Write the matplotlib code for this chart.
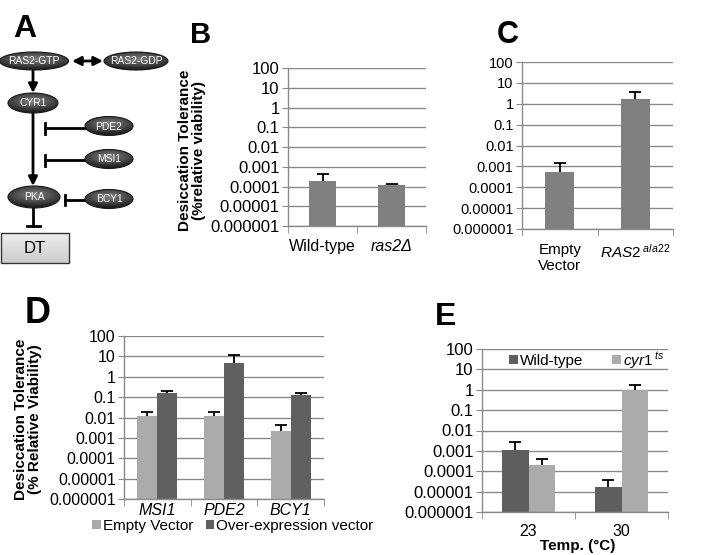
import matplotlib
matplotlib.use("Agg")
import matplotlib.pyplot as plt
import numpy as np
from matplotlib.patches import Ellipse, Rectangle, FancyArrowPatch
from matplotlib.ticker import FixedLocator, FixedFormatter, NullLocator

plt.rcParams['font.family'] = ['Liberation Sans', 'DejaVu Sans']
plt.rcParams['mathtext.fontset'] = 'custom'
plt.rcParams['mathtext.rm'] = 'Liberation Sans'
plt.rcParams['mathtext.it'] = 'Liberation Sans:italic'

W, H = 713, 555

# shared log axis
tick_vals = [1e-6, 1e-5, 1e-4, 1e-3, 1e-2, 0.1, 1, 10, 100]
tick_labels = ['0.000001', '0.00001', '0.0001', '0.001', '0.01', '0.1', '1', '10', '100']

# panel B
b_cats = ['Wild-type', 'ras2Δ']
b_vals = [0.00019, 0.000118]
b_top = [0.00043, 0.00013]

# panel C
c_cats = ['Empty\nVector', r'$\mathit{RAS2}^{\ \mathit{ala22}}$']
c_vals = [0.00055, 1.64]
c_top = [0.0015, 3.67]

# panel D
d_cats = ['MSI1', 'PDE2', 'BCY1']
d_empty = [0.012, 0.012, 0.0022]
d_empty_top = [0.0197, 0.019, 0.0042]
d_over = [0.168, 4.97, 0.134]
d_over_top = [0.2, 11.7, 0.168]

# panel E
e_cats = ['23', '30']
e_wt = [0.0011, 1.7e-5]
e_wt_top = [0.0028, 3.9e-5]
e_cyr = [0.0002, 1.0]
e_cyr_top = [0.00038, 1.8]

# pathway diagram nodes: name, cx, cy, w, h
nodes = [('RAS2-GTP', 34, 61, 69, 18),
         ('RAS2-GDP', 136, 61, 64, 18),
         ('CYR1', 33, 103, 50, 20),
         ('PDE2', 109, 126, 48, 19),
         ('MSI1', 109, 159, 48, 19),
         ('PKA', 34, 197, 52, 22),
         ('BCY1', 109, 199, 48, 19)]

GRID = '#8a8a8a'
BASE = 1e-6

fig = plt.figure(figsize=(W / 100, H / 100), dpi=100)


def px_axes(x0, y0, x1, y1):
    return fig.add_axes([x0 / W, 1 - y1 / H, (x1 - x0) / W, (y1 - y0) / H])


def style(ax, cats, ysize=11.5, xsize=11, xpad=8):
    n = len(cats)
    ax.set_yscale('log')
    ax.set_ylim(1e-6, 100)
    ax.yaxis.set_major_locator(FixedLocator(tick_vals))
    ax.yaxis.set_major_formatter(FixedFormatter(tick_labels))
    ax.yaxis.set_minor_locator(NullLocator())
    ax.set_xlim(-0.5, n - 0.5)
    ax.grid(axis='y', color=GRID, lw=1.0)
    ax.set_axisbelow(True)
    for s in ['top', 'right']:
        ax.spines[s].set_visible(False)
    for s in ['left', 'bottom']:
        ax.spines[s].set_color(GRID)
        ax.spines[s].set_linewidth(1.0)
    ax.tick_params(axis='y', length=4, color=GRID, labelsize=ysize, pad=2)
    ax.set_xticks(range(n))
    ax.set_xticklabels(cats)
    ax.set_xticks(np.arange(n + 1) - 0.5, minor=True)
    ax.tick_params(axis='x', which='major', length=0, labelsize=xsize, pad=xpad)
    ax.tick_params(axis='x', which='minor', length=5, color=GRID)


def bars(ax, x, vals, tops, w, color, label=None):
    vals = np.array(vals)
    tops = np.array(tops)
    ax.bar(x, vals - BASE, bottom=BASE, width=w, color=color, zorder=2, label=label)
    ax.vlines(x, vals, tops, color='black', lw=1.3, zorder=3)
    ax.plot(x, tops, ls='none', marker='_', ms=8, mew=1.3, color='black', zorder=3)


# ---------- panel A diagram ----------
ax0 = fig.add_axes([0, 0, 1, 1])
ax0.set_xlim(0, W)
ax0.set_ylim(H, 0)
ax0.axis('off')

yy, xx = np.mgrid[-1:1:80j, -1:1:80j]
rr = np.sqrt((xx * 0.9) ** 2 + ((yy + 0.2) * 1.1) ** 2)
glow = np.clip(0.52 - 0.33 * rr, 0.12, 1)
for name, cx, cy, w, h in nodes:
    e = Ellipse((cx, cy), w, h, facecolor='none', edgecolor='#1a1a1a', lw=0.8, zorder=4)
    ax0.add_patch(e)
    im = ax0.imshow(glow, cmap='gray', vmin=0, vmax=1, aspect='auto',
                    extent=[cx - w / 2, cx + w / 2, cy + h / 2, cy - h / 2],
                    interpolation='bilinear', zorder=3)
    im.set_clip_path(e)
    ax0.text(cx, cy + 0.5, name, color='white', fontsize=7.4, ha='center', va='center', zorder=5)

# DT box
yb, xb = np.mgrid[0:1:40j, 0:1:40j]
box_grad = 0.93 - 0.13 * yb
bx = Rectangle((1, 233), 68, 30, facecolor='none', edgecolor='#333333', lw=1.0, zorder=4)
ax0.add_patch(bx)
imb = ax0.imshow(box_grad, cmap='gray', vmin=0, vmax=1, aspect='auto',
                 extent=[1, 69, 263, 233], zorder=3)
imb.set_clip_path(bx)
ax0.text(35, 248.5, 'DT', fontsize=12, ha='center', va='center', zorder=5)


def arrow(p0, p1, style='-|>'):
    ax0.add_patch(FancyArrowPatch(p0, p1, arrowstyle=style, mutation_scale=13,
                                  color='black', lw=2.0, shrinkA=0, shrinkB=0, zorder=2))


def inhibit(p0, p1, vertical_bar=True, half=5.5):
    ax0.plot([p0[0], p1[0]], [p0[1], p1[1]], color='black', lw=2.0, zorder=2)
    if vertical_bar:
        ax0.plot([p1[0], p1[0]], [p1[1] - half, p1[1] + half], color='black', lw=2.0, zorder=2)
    else:
        ax0.plot([p1[0] - half, p1[0] + half], [p1[1], p1[1]], color='black', lw=2.0, zorder=2)


arrow((72, 61), (103, 61), '<|-|>')
arrow((33, 70), (33, 93))
arrow((33, 113), (33, 186))
inhibit((85, 128), (45, 128))
inhibit((85, 160), (45, 160))
inhibit((85, 200), (65, 200), half=5)
inhibit((33, 208), (33, 226), vertical_bar=False, half=6.5)
ax0.set_xlim(0, W)
ax0.set_ylim(H, 0)

# ---------- panel B ----------
axb = px_axes(288, 68, 426, 226)
style(axb, b_cats, ysize=12, xsize=11.5, xpad=9)
bars(axb, np.arange(2), b_vals, b_top, 0.4, '#808080')
axb.get_xticklabels()[1].set_fontstyle('italic')

# ---------- panel C ----------
axc = px_axes(522, 62, 673, 229)
style(axc, c_cats, ysize=10.5, xsize=11, xpad=10)
bars(axc, np.arange(2), c_vals, c_top, 0.39, '#808080')

# ---------- panel D ----------
axd = px_axes(124, 336, 324, 499)
style(axd, d_cats, ysize=11.5, xsize=11.5, xpad=3)
xd = np.arange(3)
bars(axd, xd - 0.15, d_empty, d_empty_top, 0.3, '#ababab', 'Empty Vector')
bars(axd, xd + 0.15, d_over, d_over_top, 0.3, '#606060', 'Over-expression vector')
for lab in axd.get_xticklabels():
    lab.set_fontstyle('italic')
axd.legend(loc='center', bbox_to_anchor=(0.545, -0.165), ncol=2, frameon=False,
           fontsize=11, handlelength=0.55, handleheight=0.55, handletextpad=0.15,
           columnspacing=0.8, borderaxespad=0)

# ---------- panel E ----------
axe = px_axes(482, 349, 668, 512)
style(axe, e_cats, ysize=12, xsize=11.5, xpad=9)
xe = np.arange(2)
bars(axe, xe - 0.14, e_wt, e_wt_top, 0.28, '#5f5f5f', 'Wild-type')
bars(axe, xe + 0.14, e_cyr, e_cyr_top, 0.28, '#ababab', r'$\mathit{cyr1}^{\ ts}$')
axe.legend(loc='center', bbox_to_anchor=(0.565, 0.93), ncol=2, frameon=False,
           fontsize=11, handlelength=0.55, handleheight=0.55, handletextpad=0.15,
           columnspacing=1.9, borderaxespad=0)
fig.text(578 / W, 1 - 546 / H, 'Temp. (°C)', fontsize=11, fontweight='bold',
         ha='center', va='center')

# y labels
fig.text(192 / W, 1 - 150 / H, 'Desiccation Tolerance\n(%relative viability)', rotation=90,
         fontsize=11, fontweight='bold', ha='center', va='center', multialignment='center',
         linespacing=1.0)
fig.text(28 / W, 1 - 419 / H, 'Desiccation Tolerance\n(% Relative Viability)', rotation=90,
         fontsize=11, fontweight='bold', ha='center', va='center', multialignment='center',
         linespacing=1.0)

# panel letters
for letter, x, y, size in [('A', 13, 37, 23), ('B', 190, 43, 21), ('C', 497, 43, 22),
                           ('D', 25, 323, 26), ('E', 435, 325, 23)]:
    fig.text(x / W, 1 - y / H, letter, fontsize=size, fontweight='bold',
             ha='left', va='baseline')

fig.savefig('out.png', dpi=100)
